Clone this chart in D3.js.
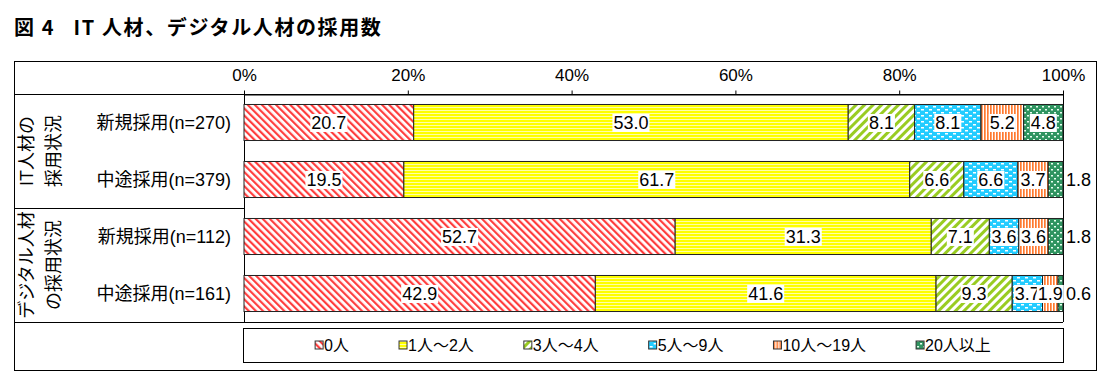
<!DOCTYPE html>
<html>
<head>
<meta charset="utf-8">
<script src="https://cdn.jsdelivr.net/npm/d3@7"></script>
<style>
  body { margin: 0; background: #fff; }
  svg { display: block; font-family: "Liberation Sans", "Noto Sans CJK JP", sans-serif; }
</style>
</head>
<body>
<div id="chart"></div>
<script>
// rows (top to bottom)
const rows = ["新規採用(n=270)", "中途採用(n=379)", "新規採用(n=112)", "中途採用(n=161)"];
const groupLabels = [["IT人材の", "採用状況"], ["デジタル人材", "の採用状況"]];
const groupSizes = [2, 2];

// series values, one per row (%)
const zero = [20.7, 19.5, 52.7, 42.9];
const oneToTwo = [53.0, 61.7, 31.3, 41.6];
const threeToFour = [8.1, 6.6, 7.1, 9.3];
const fiveToNine = [8.1, 6.6, 3.6, 3.7];
const tenToNineteen = [5.2, 3.7, 3.6, 1.9];
const twentyPlus = [4.8, 1.8, 1.8, 0.6];

const seriesNames = ["0人", "1人～2人", "3人～4人", "5人～9人", "10人～19人", "20人以上"];
const tickValues = [0, 0.2, 0.4, 0.6, 0.8, 1];
const title = "図 4   IT 人材、デジタル人材の採用数";

const W = 1110, H = 388;
const frame = { left: 14, top: 61, right: 1096, bottom: 370 };
const plot = { left: 244, right: 1063, top: 94, bottom: 322 };

const svg = d3.select("#chart").append("svg").attr("width", W).attr("height", H);
const defs = svg.append("defs");

// fill patterns, roughly like the Excel ones
function pat(id, w, h, transform) {
  const p = defs.append("pattern").attr("id", id)
    .attr("patternUnits", "userSpaceOnUse").attr("width", w).attr("height", h);
  if (transform) p.attr("patternTransform", transform);
  return p;
}
let p = pat("p0", 5, 5, "rotate(-45)");
p.append("rect").attr("width", 5).attr("height", 5).attr("fill", "#fff");
p.append("rect").attr("width", 2.2).attr("height", 5).attr("fill", "#ff3d3d");

p = pat("p1", 4, 3);
p.append("rect").attr("width", 4).attr("height", 3).attr("fill", "#ffff00");
p.append("rect").attr("y", 2).attr("width", 4).attr("height", 1).attr("fill", "#ffffa8");

p = pat("p2", 6, 6, "rotate(45)");
p.append("rect").attr("width", 6).attr("height", 6).attr("fill", "#fff");
p.append("rect").attr("width", 3).attr("height", 6).attr("fill", "#99cc22");

p = pat("p3", 8, 6);
p.append("rect").attr("width", 8).attr("height", 6).attr("fill", "#22ccff");
p.append("rect").attr("x", 1).attr("y", 1).attr("width", 3).attr("height", 1.5).attr("fill", "#fff");
p.append("rect").attr("x", 5).attr("y", 4).attr("width", 3).attr("height", 1.5).attr("fill", "#fff");

p = pat("p4", 3, 4);
p.append("rect").attr("width", 3).attr("height", 4).attr("fill", "#fff");
p.append("rect").attr("width", 1.7).attr("height", 4).attr("fill", "#ff7a30");

p = pat("p5", 6, 6);
p.append("rect").attr("width", 6).attr("height", 6).attr("fill", "#2f9460");
p.append("rect").attr("x", 1).attr("y", 1).attr("width", 2).attr("height", 1.5).attr("fill", "#e8fff0");
p.append("rect").attr("x", 4).attr("y", 4).attr("width", 2).attr("height", 1.5).attr("fill", "#e8fff0");

// data table
const seriesArrays = [zero, oneToTwo, threeToFour, fiveToNine, tenToNineteen, twentyPlus];
const table = rows.map((r, i) => {
  const o = { row: r };
  seriesNames.forEach((s, j) => { o[s] = seriesArrays[j][i]; });
  return o;
});
const stacked = d3.stack().keys(seriesNames).offset(d3.stackOffsetExpand)(table);

const x = d3.scaleLinear().domain([0, 1]).range([plot.left, plot.right]);
const y = d3.scaleBand().domain(rows).range([plot.top, plot.bottom])
  .paddingInner(0.368).paddingOuter(0.184);

// title
svg.append("text").attr("x", 14).attr("y", 35)
  .attr("xml:space", "preserve")
  .attr("font-family", "'Noto Sans CJK JP', sans-serif")
  .attr("font-weight", "bold").attr("font-size", 20).attr("fill", "#000")
  .attr("letter-spacing", 1.6)
  .text(title);

// outer frame and table lines
svg.append("rect").attr("x", frame.left + 0.5).attr("y", frame.top + 0.5)
  .attr("width", frame.right - frame.left).attr("height", frame.bottom - frame.top)
  .attr("fill", "none").attr("stroke", "#000");

const lines = svg.append("g").attr("stroke", "#000").attr("stroke-width", 1);
lines.append("line").attr("x1", frame.left).attr("x2", plot.right).attr("y1", plot.top + 0.5).attr("y2", plot.top + 0.5);
lines.append("line").attr("x1", frame.left).attr("x2", plot.right).attr("y1", plot.bottom + 0.5).attr("y2", plot.bottom + 0.5);
lines.append("line").attr("x1", plot.right + 0.5).attr("x2", plot.right + 0.5).attr("y1", plot.top).attr("y2", plot.bottom);
lines.append("line").attr("x1", plot.left + 0.5).attr("x2", plot.left + 0.5).attr("y1", plot.top).attr("y2", plot.bottom);

// group labels and dividers
let start = 0;
groupLabels.forEach((g, gi) => {
  const first = rows[start], last = rows[start + groupSizes[gi] - 1];
  const top = gi === 0 ? plot.top : (y(first) + y(rows[start - 1]) + y.bandwidth()) / 2;
  const bottom = gi === groupLabels.length - 1 ? plot.bottom : (y(last) + y.bandwidth() + y(rows[start + groupSizes[gi]])) / 2;
  if (gi > 0) {
    lines.append("line").attr("x1", frame.left).attr("x2", plot.left)
      .attr("y1", Math.round(top) + 0.5).attr("y2", Math.round(top) + 0.5);
  }
  const cy = (top + bottom) / 2;
  g.forEach((t, li) => {
    const cx = 27 + li * 27;
    svg.append("text")
      .attr("transform", `translate(${cx},${cy}) rotate(-90)`)
      .attr("text-anchor", "middle").attr("dominant-baseline", "central")
      .attr("font-size", 18).attr("fill", "#000")
      .text(t);
  });
  start += groupSizes[gi];
});

// row labels
svg.append("g").selectAll("text").data(rows).join("text")
  .attr("x", plot.left - 13)
  .attr("y", d => y(d) + y.bandwidth() / 2)
  .attr("dy", "0.35em")
  .attr("text-anchor", "end")
  .attr("font-size", 18).attr("fill", "#000")
  .text(d => d);

// top axis
const axis = svg.append("g").attr("transform", `translate(0,${plot.top + 0.5})`)
  .call(d3.axisTop(x).tickValues(tickValues).tickFormat(d3.format(".0%")).tickSize(4).tickPadding(10).tickSizeOuter(0));
axis.select(".domain").attr("stroke", "#000");
axis.selectAll(".tick line").attr("stroke", "#000");
axis.selectAll(".tick text").attr("font-size", 17).attr("fill", "#000")
  .attr("font-family", "'Liberation Sans', sans-serif");

// bars
const layers = svg.append("g").selectAll("g").data(stacked).join("g")
  .attr("fill", (d, i) => `url(#p${i})`);
layers.selectAll("rect").data(d => d).join("rect")
  .attr("x", d => x(d[0]))
  .attr("y", d => y(d.data.row))
  .attr("width", d => x(d[1]) - x(d[0]))
  .attr("height", y.bandwidth())
  .attr("stroke", "#222").attr("stroke-width", 1);

// value labels
const fmt = d3.format(".1f");
const lastKey = seriesNames[seriesNames.length - 1];
stacked.forEach(layer => {
  layer.forEach(d => {
    const v = d.data[layer.key];
    const outside = layer.key === lastKey && v < 3;
    const g = svg.append("g");
    const t = g.append("text")
      .attr("x", outside ? x(1) + 3 : (x(d[0]) + x(d[1])) / 2)
      .attr("y", y(d.data.row) + y.bandwidth() / 2)
      .attr("dy", "0.36em")
      .attr("text-anchor", outside ? "start" : "middle")
      .attr("font-size", 18).attr("fill", "#000")
      .text(fmt(v));
    if (!outside) {
      const b = t.node().getBBox();
      g.insert("rect", "text").attr("x", b.x - 1).attr("y", b.y + 1)
        .attr("width", b.width + 2).attr("height", b.height - 2).attr("fill", "#fff");
    }
  });
});

// legend
const legBox = { left: 243, right: 1063, top: 328, bottom: 362 };
svg.append("rect").attr("x", legBox.left + 0.5).attr("y", legBox.top + 0.5)
  .attr("width", legBox.right - legBox.left).attr("height", legBox.bottom - legBox.top)
  .attr("fill", "none").attr("stroke", "#000");
const leg = svg.append("g");
const items = leg.selectAll("g").data(seriesNames).join("g");
items.append("rect").attr("width", 8).attr("height", 8).attr("y", -4)
  .attr("fill", (d, i) => `url(#p${i})`).attr("stroke", "#333").attr("stroke-width", 1);
items.append("text").attr("x", 9).attr("dy", "0.36em")
  .attr("font-size", 16).attr("fill", "#000").text(d => d);
const widths = [];
items.each(function () {
  const w = 9 + d3.select(this).select("text").node().getComputedTextLength();
  widths.push(w);
});
const total = d3.sum(widths) + 50 * (widths.length - 1);
let cur = (legBox.left + legBox.right) / 2 - total / 2;
items.attr("transform", (d, i) => {
  const tx = cur;
  cur += widths[i] + 50;
  return `translate(${tx},${(legBox.top + legBox.bottom) / 2})`;
});
</script>
</body>
</html>
